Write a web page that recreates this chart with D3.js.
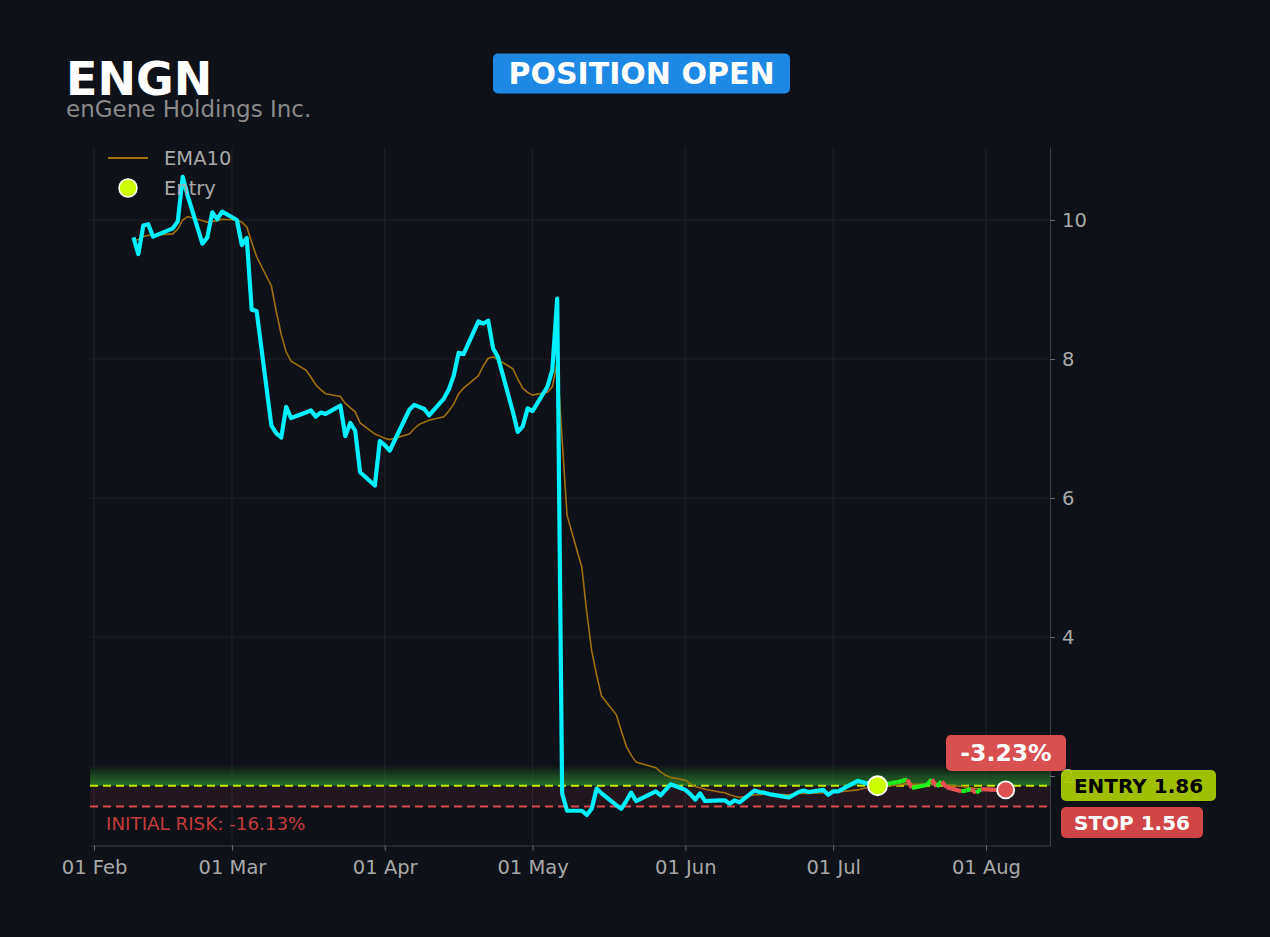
<!DOCTYPE html>
<html><head><meta charset="utf-8">
<script src="https://cdn.jsdelivr.net/npm/d3@7"></script>
<style>
html,body{margin:0;padding:0;background:#0e1117;}
svg{display:block;font-family:"DejaVu Sans",sans-serif;}
</style></head><body>
<svg id="c" width="1270" height="937"></svg>
<script>
const ticker = "ENGN";
const company = "enGene Holdings Inc.";
const statusText = "POSITION OPEN";
const dates = [
 "2026-02-09","2026-02-10","2026-02-11","2026-02-12","2026-02-13","2026-02-17","2026-02-18","2026-02-19","2026-02-20","2026-02-23","2026-02-24","2026-02-25","2026-02-26","2026-02-27",
 "2026-03-02","2026-03-03","2026-03-04","2026-03-05","2026-03-06","2026-03-09","2026-03-10","2026-03-11","2026-03-12","2026-03-13","2026-03-16","2026-03-17","2026-03-18","2026-03-19","2026-03-20","2026-03-23","2026-03-24","2026-03-25","2026-03-26","2026-03-27","2026-03-30","2026-03-31",
 "2026-04-01","2026-04-02","2026-04-06","2026-04-07","2026-04-08","2026-04-09","2026-04-10","2026-04-13","2026-04-14","2026-04-15","2026-04-16","2026-04-17","2026-04-20","2026-04-21","2026-04-22","2026-04-23","2026-04-24","2026-04-27","2026-04-28","2026-04-29","2026-04-30",
 "2026-05-01","2026-05-04","2026-05-05","2026-05-06","2026-05-07","2026-05-08","2026-05-11","2026-05-12","2026-05-13","2026-05-14","2026-05-15","2026-05-18","2026-05-19","2026-05-20","2026-05-21","2026-05-22","2026-05-26","2026-05-27","2026-05-28","2026-05-29",
 "2026-06-01","2026-06-02","2026-06-03","2026-06-04","2026-06-05","2026-06-08","2026-06-09","2026-06-10","2026-06-11","2026-06-12","2026-06-15","2026-06-16","2026-06-17","2026-06-18","2026-06-22","2026-06-23","2026-06-24","2026-06-25","2026-06-26","2026-06-29","2026-06-30",
 "2026-07-01","2026-07-02","2026-07-06","2026-07-07","2026-07-08","2026-07-09","2026-07-10","2026-07-13","2026-07-14","2026-07-15","2026-07-16","2026-07-17","2026-07-20","2026-07-21","2026-07-22","2026-07-23","2026-07-24","2026-07-27","2026-07-28","2026-07-29","2026-07-30","2026-07-31",
 "2026-08-03","2026-08-04","2026-08-05"
];
const close = [
 9.75,9.51,9.92,9.94,9.76,9.88,9.98,10.62,10.35,9.66,9.75,10.11,10.01,10.12,
 10.00,9.64,9.74,8.71,8.69,7.04,6.93,6.87,7.31,7.15,7.23,7.26,7.17,7.23,7.21,7.33,6.89,7.08,6.97,6.37,6.18,6.82,
 6.76,6.68,7.27,7.34,7.31,7.28,7.19,7.43,7.56,7.76,8.09,8.07,8.54,8.51,8.55,8.15,8.02,7.24,6.95,7.03,7.29,
 7.25,7.60,7.84,8.87,1.75,1.50,1.50,1.44,1.53,1.82,1.75,1.58,1.53,1.64,1.76,1.64,1.78,1.72,1.80,1.88,
 1.80,1.74,1.66,1.75,1.64,1.65,1.65,1.60,1.65,1.62,1.79,1.77,1.76,1.74,1.69,1.73,1.77,1.79,1.77,1.80,1.73,
 1.78,1.78,1.93,1.91,1.89,1.87,1.86,1.90,1.91,1.93,1.95,1.83,1.87,1.95,1.85,1.92,1.84,1.78,1.79,1.81,1.76,1.81,
 1.80,1.79,1.80
];
const ema10 = [
 9.70,9.72,9.76,9.78,9.78,9.80,9.87,10.00,10.05,9.99,9.97,9.98,9.99,10.01,
 10.00,9.97,9.90,9.68,9.47,9.05,8.68,8.35,8.10,7.97,7.84,7.74,7.63,7.56,7.50,7.46,7.36,7.30,7.24,7.08,6.92,6.89,
 6.86,6.84,6.92,7.00,7.06,7.09,7.12,7.17,7.25,7.35,7.50,7.58,7.76,7.90,8.01,8.03,7.99,7.86,7.71,7.58,7.52,
 7.48,7.52,7.60,7.95,6.83,5.75,5.00,4.35,3.80,3.45,3.15,2.88,2.65,2.43,2.30,2.20,2.12,2.06,2.01,1.98,
 1.94,1.89,1.85,1.83,1.81,1.77,1.76,1.73,1.71,1.69,1.73,1.73,1.74,1.74,1.73,1.74,1.75,1.75,1.75,1.76,1.76,
 1.77,1.77,1.80,1.82,1.83,1.84,1.85,1.86,1.87,1.88,1.89,1.88,1.88,1.89,1.88,1.88,1.87,1.85,1.84,1.83,1.82,1.82,
 1.81,1.81,1.81
];
const entryDate = "2026-07-10";
const entryPrice = 1.86;
const stopPrice = 1.56;
const pnlText = "-3.23%";
const riskText = "INITIAL RISK: -16.13%";
const yTicks = [2,4,6,8,10];
const legendLabels = ["EMA10","Entry"];

const L=90,R=1050,T=147,B=845.5;
const svg=d3.select("#c");
svg.append("rect").attr("width",1270).attr("height",937).attr("fill","#0e1117");
const parse=d3.utcParse("%Y-%m-%d");
const data=dates.map((d,i)=>({date:parse(d),close:close[i],ema:ema10[i]}));
const x=d3.scaleUtc().domain([new Date(Date.UTC(2026,0,31,4,30)),new Date(Date.UTC(2026,7,14))]).range([L,R]);
const y=d3.scaleLinear().domain([1.0,11.05]).range([B,T]);
const monthTicks=x.ticks(d3.utcMonth.every(1));

const defs=svg.append("defs");
defs.append("clipPath").attr("id","clip").append("rect").attr("x",L).attr("y",T).attr("width",R-L).attr("height",B-T);
const g1=defs.append("linearGradient").attr("id","gband").attr("x1",0).attr("x2",0).attr("y1",0).attr("y2",1);
g1.append("stop").attr("offset","0%").attr("stop-color","#2a8a2a").attr("stop-opacity",0);
g1.append("stop").attr("offset","100%").attr("stop-color","#2a8a2a").attr("stop-opacity",0.8);

// grid
const grid=svg.append("g");
grid.selectAll(".vg").data(monthTicks).join("line").attr("x1",d=>x(d)).attr("x2",d=>x(d)).attr("y1",T).attr("y2",B).attr("stroke","#1e222a").attr("stroke-width",1);
grid.selectAll(".hg").data(yTicks).join("line").attr("x1",L).attr("x2",R).attr("y1",d=>y(d)).attr("y2",d=>y(d)).attr("stroke","#1e222a").attr("stroke-width",1);

// zones
const plot=svg.append("g").attr("clip-path","url(#clip)");
plot.append("rect").attr("x",L).attr("width",R-L).attr("y",y(entryPrice*1.16)).attr("height",y(entryPrice)-y(entryPrice*1.16)).attr("fill","url(#gband)");
plot.append("rect").attr("x",L).attr("width",R-L).attr("y",y(entryPrice)).attr("height",y(stopPrice)-y(entryPrice)).attr("fill","#e0506a").attr("fill-opacity",0.1);

// axes
const xAxis=svg.append("g").attr("transform",`translate(0,${B})`)
 .call(d3.axisBottom(x).tickValues(monthTicks).tickFormat(d3.utcFormat("%d %b")).tickSize(5).tickSizeOuter(0).tickPadding(10));
const yAxis=svg.append("g").attr("transform",`translate(${R},0)`)
 .call(d3.axisRight(y).tickValues(yTicks).tickFormat(d3.format("d")).tickSize(5).tickSizeOuter(0).tickPadding(7));
[xAxis,yAxis].forEach(a=>{
  a.select(".domain").attr("stroke","#3a3e46");
  a.selectAll(".tick line").attr("stroke","#6a6e76");
  a.selectAll(".tick text").attr("fill","#a8a8a8").attr("font-size",19.5).attr("font-family","DejaVu Sans");
});

// legend (under lines)
const lg=svg.append("g");
lg.append("line").attr("x1",108).attr("x2",148).attr("y1",158).attr("y2",158).attr("stroke","#a8730f").attr("stroke-width",1.8);
lg.append("text").attr("x",164).attr("y",165).text(legendLabels[0]).attr("fill","#a8a8a8").attr("font-size",19.5);
lg.append("circle").attr("cx",128).attr("cy",188).attr("r",9).attr("fill","#ccff00").attr("stroke","#fff").attr("stroke-width",1.5);
lg.append("text").attr("x",164).attr("y",195).text(legendLabels[1]).attr("fill","#a8a8a8").attr("font-size",19.5);

// reference lines
plot.append("line").attr("x1",L).attr("x2",R).attr("y1",y(entryPrice)).attr("y2",y(entryPrice)).attr("stroke","#c8e600").attr("stroke-width",2).attr("stroke-dasharray","8,5");
plot.append("line").attr("x1",L).attr("x2",R).attr("y1",y(stopPrice)).attr("y2",y(stopPrice)).attr("stroke","#d94a4a").attr("stroke-width",2).attr("stroke-dasharray","8,5");

// EMA
const line=(k)=>d3.line().x(d=>x(d.date)).y(d=>y(d[k]));
plot.append("path").datum(data).attr("d",line("ema")).attr("fill","none").attr("stroke","#a0700f").attr("stroke-width",1.6);

// price
const ei=dates.indexOf(entryDate);
plot.append("path").datum(data.slice(0,ei+1)).attr("d",line("close")).attr("fill","none").attr("stroke","#00f0ff").attr("stroke-width",4.2).attr("stroke-linejoin","round");
const segs=d3.pairs(data.slice(ei));
plot.selectAll(".seg").data(segs).join("line")
 .attr("x1",d=>x(d[0].date)).attr("y1",d=>y(d[0].close)).attr("x2",d=>x(d[1].date)).attr("y2",d=>y(d[1].close))
 .attr("stroke",d=>d[1].close>=d[0].close?"#1ef01e":"#e65050").attr("stroke-width",4.2);

// markers
const last=data[data.length-1];
svg.append("circle").attr("cx",x(parse(entryDate))).attr("cy",y(entryPrice)).attr("r",9.5).attr("fill","#ccff00").attr("stroke","#fff").attr("stroke-width",1.8);
svg.append("circle").attr("cx",x(last.date)).attr("cy",y(last.close)).attr("r",8.5).attr("fill","#e05252").attr("stroke","#fff").attr("stroke-width",1.8);

// risk text
svg.append("text").attr("x",106).attr("y",830).text(riskText).attr("fill","#c43c3c").attr("font-size",18.3);

// badges
function badge(cx,cy,w,h,fill,txt,tc,fs,op){
  const g=svg.append("g");
  g.append("rect").attr("x",cx-w/2).attr("y",cy-h/2).attr("width",w).attr("height",h).attr("rx",5).attr("fill",fill).attr("fill-opacity",op||1);
  g.append("text").attr("x",cx).attr("y",cy).attr("dy","0.36em").attr("text-anchor","middle").attr("fill",tc).attr("font-size",fs).attr("font-weight","bold").text(txt);
}
badge((946+1066)/2,753,120,36,"#d95050",pnlText,"#ffffff",23.5);
badge((1061+1216)/2,785.5,155,31,"#aacc00",`ENTRY ${entryPrice.toFixed(2)}`,"#000000",20,0.93);
badge((1061+1203)/2,822.5,142,31,"#d04646",`STOP ${stopPrice.toFixed(2)}`,"#ffffff",20);

// titles
svg.append("text").attr("x",66).attr("y",95).text(ticker).attr("fill","#ffffff").attr("font-size",46).attr("font-weight","bold");
svg.append("text").attr("x",66).attr("y",117).text(company).attr("fill","#8a8a8a").attr("font-size",23);
badge((493+790)/2,73.5,297,40,"#1e88e5",statusText,"#ffffff",30);
</script>
</body></html>
